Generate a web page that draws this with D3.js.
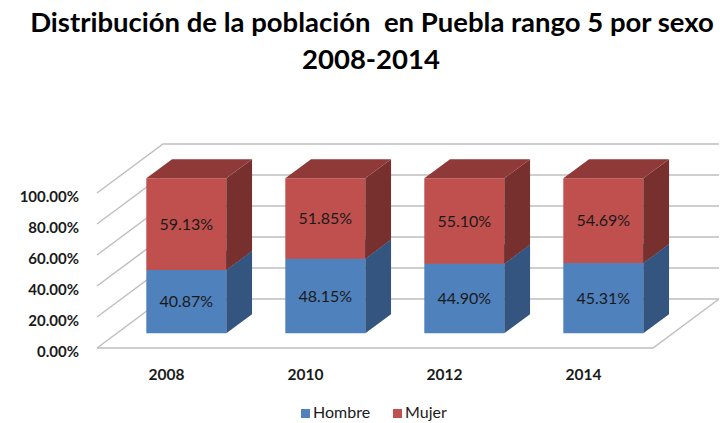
<!DOCTYPE html>
<html>
<head>
<meta charset="utf-8">
<script src="https://cdn.jsdelivr.net/npm/d3@7"></script>
<style>
  body { margin: 0; background: #fff; }
  text { font-family: Lato, "Open Sans", sans-serif; }
</style>
</head>
<body>
<div id="chart"></div>
<script>
const years = ["2008", "2010", "2012", "2014"];
const hombre = [0.4087, 0.4815, 0.4490, 0.4531];
const mujer = [0.5913, 0.5185, 0.5510, 0.5469];
const yTicks = [0, 0.2, 0.4, 0.6, 0.8, 1.0];
const seriesNames = ["Hombre", "Mujer"];

const W = 720, H = 423;
const svg = d3.select("#chart").append("svg").attr("width", W).attr("height", H);

// front plane scales
const x = d3.scaleBand().domain(years).range([97, 653]).paddingInner(0.4245).paddingOuter(0.21225);
const y = d3.scaleLinear().domain([0, 1]).range([348, 193]);

// depth offset of the whole floor (z from 0 to 1)
const DX = 66, DY = -49;
const z0 = 0.3, z1 = 0.69;
const P = (px, v, z) => [px + z * DX, y(v) + z * DY];
const poly = pts => pts.map(p => p.join(",")).join(" ");

const grid = svg.append("g");
const gridColor = "#bfbfbf";
const x0 = x.range()[0], x1 = x.range()[1];

// side wall diagonals + back wall lines
yTicks.forEach(v => {
  const a = P(x0, v, 0), b = P(x0, v, 1), c = P(x1, v, 1);
  grid.append("polyline").attr("points", poly([a, b, c]))
    .attr("fill", "none").attr("stroke", gridColor).attr("stroke-width", 1.5);
});
// floor front and right edge
grid.append("polyline").attr("points", poly([P(x0, 0, 0), P(x1, 0, 0), P(x1, 0, 1)]))
  .attr("fill", "none").attr("stroke", gridColor).attr("stroke-width", 1.5);

// y labels
svg.append("g").selectAll("text").data(yTicks).join("text")
  .attr("x", 79).attr("y", d => y(d) + 3.5)
  .attr("dy", "0.35em")
  .attr("text-anchor", "end")
  .attr("font-size", 15).attr("font-weight", "bold").attr("fill", "#1a1a1a")
  .text(d => (d * 100).toFixed(2) + "%");

// category labels
svg.append("g").selectAll("text").data(years).join("text")
  .attr("x", d => x(d) + x.bandwidth() / 2)
  .attr("y", 380)
  .attr("text-anchor", "middle")
  .attr("font-size", 15.5).attr("font-weight", "bold").attr("fill", "#1a1a1a")
  .text(d => d);

const colors = {
  Hombre: { front: "#4f81bd", side: "#34557f", top: "#3f6797" },
  Mujer: { front: "#c0504d", side: "#78302e", top: "#8f3a38" }
};

const stacks = years.map((yr, i) => [
  { name: "Hombre", yr, lo: 0, hi: hombre[i], v: hombre[i] },
  { name: "Mujer", yr, lo: hombre[i], hi: hombre[i] + mujer[i], v: mujer[i] }
]);

const bars = svg.append("g");
stacks.forEach(stack => {
  stack.forEach(s => {
    const l = x(s.yr), r = l + x.bandwidth();
    const c = colors[s.name];
    const g = bars.append("g");
    // front face
    g.append("polygon").attr("points", poly([P(l, s.lo, z0), P(r, s.lo, z0), P(r, s.hi, z0), P(l, s.hi, z0)]))
      .attr("fill", c.front);
    // right side
    g.append("polygon").attr("points", poly([P(r, s.lo, z0), P(r, s.lo, z1), P(r, s.hi, z1), P(r, s.hi, z0)]))
      .attr("fill", c.side);
    // top
    g.append("polygon").attr("points", poly([P(l, s.hi, z0), P(r, s.hi, z0), P(r, s.hi, z1), P(l, s.hi, z1)]))
      .attr("fill", c.top);
    const m = P((l + r) / 2, (s.lo + s.hi) / 2, z0);
    g.append("text").attr("x", m[0]).attr("y", m[1]).attr("dy", "0.35em")
      .attr("text-anchor", "middle").attr("font-size", 16).attr("fill", "#1a1a1a")
      .text((s.v * 100).toFixed(2) + "%");
  });
});

// title
const title = svg.append("text").attr("text-anchor", "middle").attr("font-size", 27.5)
  .attr("font-weight", "bold").attr("fill", "#000");
title.append("tspan").attr("x", 372).attr("y", 32).text("Distribución de la población  en Puebla rango 5 por sexo").attr("xml:space", "preserve");
title.append("tspan").attr("x", 371).attr("y", 69).text("2008-2014");

// legend
const leg = svg.append("g");
const legX = [301, 393];
seriesNames.forEach((n, i) => {
  leg.append("rect").attr("x", legX[i]).attr("y", 409).attr("width", 9).attr("height", 9).attr("fill", colors[n].front);
  leg.append("text").attr("x", legX[i] + 12).attr("y", 418).attr("font-size", 16).attr("fill", "#1a1a1a").text(n);
});
</script>
</body>
</html>
